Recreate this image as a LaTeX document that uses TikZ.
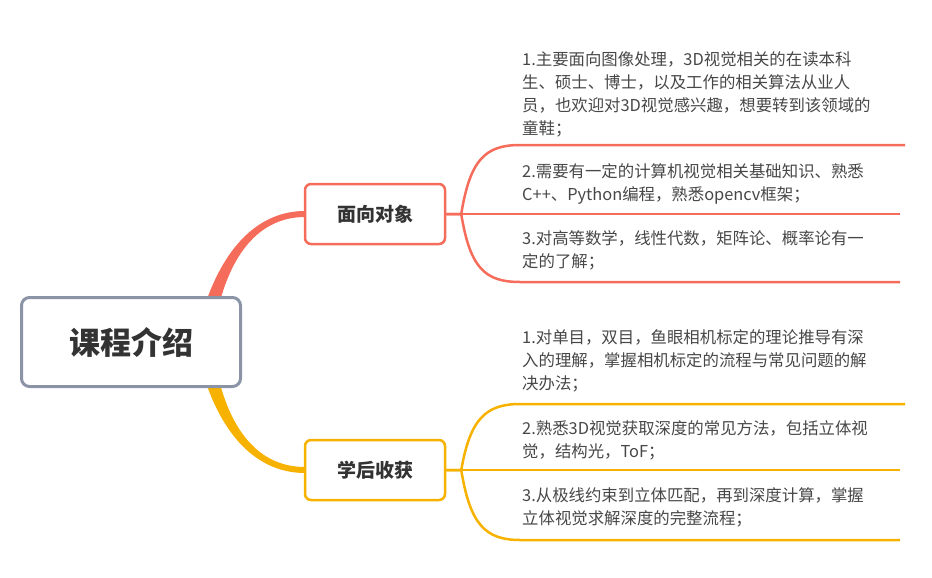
\documentclass[tikz,border=0pt]{standalone}
\usepackage{fontspec}
\setmainfont{Noto Sans CJK SC}
\usetikzlibrary{positioning,calc}
\definecolor{rootgray}{HTML}{8A94A6}
\definecolor{salmon}{HTML}{F56C5A}
\definecolor{gold}{HTML}{F7B200}
\definecolor{txt}{HTML}{333333}
\tikzset{
  topic/.style={draw=#1, line width=2.5pt, rounded corners=6pt, fill=white, minimum width=140pt, minimum height=60pt, font=\fontsize{19}{21}\selectfont\bfseries, text=txt},
  leaf/.style={anchor=north west, align=left, inner sep=0pt, font=\fontsize{16.4}{23}\selectfont, text=txt!90},
  branch/.style={draw=#1, line width=2.5pt}
}
\begin{document}
\begin{tikzpicture}[x=1pt,y=-1pt]
\useasboundingbox (0,0) rectangle (932,578);
%connectors from root
\fill[salmon] (205,305) .. controls (225,245) and (260,211) .. (305,211) -- (305,217) .. controls (262,217) and (233,250) .. (219,305) -- cycle;
\fill[gold] (205,380) .. controls (225,440) and (260,473) .. (305,473) -- (305,467) .. controls (262,467) and (233,435) .. (219,380) -- cycle;
%nodes
\node[draw=rootgray, line width=3pt, rounded corners=8pt, fill=white, minimum width=219pt, minimum height=89pt, font=\fontsize{31}{33}\selectfont\bfseries, text=txt] (root) at (131,342) {课程介绍};
\node[topic=salmon] (obj) at (375,214) {面向对象};
\node[topic=gold] (gain) at (375,470) {学后收获};
%branch ends
\coordinate (o1) at (905,145);
\coordinate (o2) at (900,214);
\coordinate (o3) at (900,282);
\coordinate (g1) at (905,404);
\coordinate (g2) at (900,470);
\coordinate (g3) at (900,540);
%branches
\draw[branch=salmon] (obj.east) -- ++(15,0) .. controls (470,160) and (485,145) .. (520,145) -- (o1);
\draw[branch=salmon] (obj.east) -- (o2);
\draw[branch=salmon] (obj.east) -- ++(15,0) .. controls (470,268) and (485,282) .. (520,282) -- (o3);
\draw[branch=gold] (gain.east) -- ++(15,0) .. controls (470,420) and (485,404) .. (520,404) -- (g1);
\draw[branch=gold] (gain.east) -- (g2);
\draw[branch=gold] (gain.east) -- ++(15,0) .. controls (470,524) and (485,540) .. (520,540) -- (g3);
%leaves
\node[leaf] (t1) at (522,51) {1.主要面向图像处理，3D视觉相关的在读本科\\生、硕士、博士，以及工作的相关算法从业人\\员，也欢迎对3D视觉感兴趣，想要转到该领域的\\童鞋；};
\node[leaf] (t2) at (522,163) {2.需要有一定的计算机视觉相关基础知识、熟悉\\C++、Python编程，熟悉opencv框架；};
\node[leaf] (t3) at (522,230) {3.对高等数学，线性代数，矩阵论、概率论有一\\定的了解；};
\node[leaf] (s1) at (522,329) {1.对单目，双目，鱼眼相机标定的理论推导有深\\入的理解，掌握相机标定的流程与常见问题的解\\决办法；};
\node[leaf] (s2) at (522,420) {2.熟悉3D视觉获取深度的常见方法，包括立体视\\觉，结构光，ToF；};
\node[leaf] (s3) at (522,487) {3.从极线约束到立体匹配，再到深度计算，掌握\\立体视觉求解深度的完整流程；};
\end{tikzpicture}
\end{document}
